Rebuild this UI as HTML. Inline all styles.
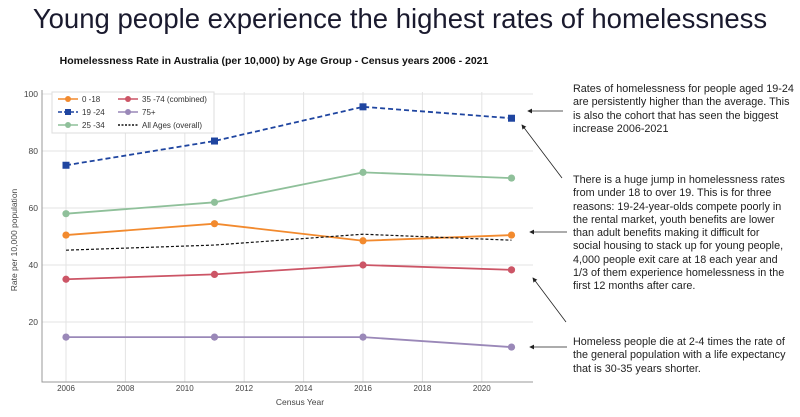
<!DOCTYPE html>
<html><head><meta charset="utf-8"><style>
body{margin:0;width:800px;height:417px;background:#fff;overflow:hidden;font-family:"Liberation Sans",sans-serif;}
svg text{font-family:"Liberation Sans",sans-serif;}
.ann{position:absolute;left:573px;font-size:10.8px;line-height:13.3px;color:#222;white-space:nowrap;}
</style></head><body>
<div style="position:absolute;left:0;width:800px;top:3px;text-align:center;font-size:27.5px;color:#1a1a2e;">Young people experience the highest rates of homelessness</div>
<div class="ann" style="top:83px">Rates of homelessness for people aged 19-24<br>are persistently higher than the average. This<br>is also the cohort that has seen the biggest<br>increase 2006-2021</div>
<div class="ann" style="top:174px">There is a huge jump in homelessness rates<br>from under 18 to over 19. This is for three<br>reasons: 19-24-year-olds compete poorly in<br>the rental market, youth benefits are lower<br>than adult benefits making it difficult for<br>social housing to stack up for young people,<br>4,000 people exit care at 18 each year and<br>1/3 of them experience homelessness in the<br>first 12 months after care.</div>
<div class="ann" style="top:336px">Homeless people die at 2-4 times the rate of<br>the general population with a life expectancy<br>that is 30-35 years shorter.</div>
<svg id="chart" width="800" height="417" style="position:absolute;left:0;top:0">
<defs><marker id="ah" markerWidth="6" markerHeight="6" refX="5" refY="3" orient="auto"><path d="M0,0 L6,3 L0,6 z" fill="#222"/></marker></defs>
<text x="274" y="64" text-anchor="middle" font-size="10.5" font-weight="bold" fill="#111">Homelessness Rate in Australia (per 10,000) by Age Group - Census years 2006 - 2021</text>
<g id="grid"></g><g id="series"></g>
<line x1="563" y1="111" x2="528" y2="111" stroke="#222" stroke-width="0.8" marker-end="url(#ah)"/>
<line x1="562" y1="178" x2="522" y2="125" stroke="#222" stroke-width="0.8" marker-end="url(#ah)"/>
<line x1="567" y1="232" x2="530" y2="232" stroke="#222" stroke-width="0.8" marker-end="url(#ah)"/>
<line x1="566" y1="322" x2="533" y2="278" stroke="#222" stroke-width="0.8" marker-end="url(#ah)"/>
<line x1="567" y1="347" x2="530" y2="347" stroke="#222" stroke-width="0.8" marker-end="url(#ah)"/>
<g>
<rect x="52" y="92" width="162" height="41" fill="#fff" stroke="#ddd"/>
</g>
</svg>
<script>
const years=[2006,2011,2016,2021];
const xTicks=[2006,2008,2010,2012,2014,2016,2018,2020];
const yTicks=[20,40,60,80,100];
const s0_18=[50.5,54.5,48.5,50.5];
const s19_24=[75,83.5,95.5,91.5];
const s25_34=[58,62,72.5,70.5];
const s35_74=[35,36.7,40,38.3];
const s75=[14.7,14.7,14.7,11.2];
const sAll=[45.2,47,50.8,48.7];
const NS="http://www.w3.org/2000/svg";
const X=y=>66+(y-2006)*29.7;
const Y=v=>379-v*2.85;
function mk(t,a,p){const e=document.createElementNS(NS,t);for(const k in a)e.setAttribute(k,a[k]);p.appendChild(e);return e;}
const grid=document.getElementById('grid'),ser=document.getElementById('series'),svg=document.getElementById('chart');
xTicks.forEach(t=>{const l=mk('line',{x1:X(t),x2:X(t),y1:92,y2:382,stroke:'#e3e3e3'},grid);

const tx=mk('text',{x:X(t),y:391,'text-anchor':'middle','font-size':'8',fill:'#444'},grid);tx.textContent=t;
});
yTicks.forEach(t=>{const l=mk('line',{x1:42,x2:533,y1:Y(t),y2:Y(t),stroke:'#e3e3e3'},grid);

const tx=mk('text',{x:38,y:Y(t)+3,'text-anchor':'end','font-size':'8.5',fill:'#444'},grid);tx.textContent=t;
});
const ax=mk('path',{d:'M42,90 L42,382 L533,382',fill:'none',stroke:'#999'},grid);

const xt=mk('text',{x:300,y:405,'text-anchor':'middle','font-size':'8.5',fill:'#444'},grid);xt.textContent='Census Year';

const yt=mk('text',{x:0,y:0,transform:'translate(17,240) rotate(-90)','text-anchor':'middle','font-size':'8.5',fill:'#444'},grid);yt.textContent='Rate per 10,000 population';

const series=[
{n:'0-18',d:s0_18,c:'#f28a2e',dash:'',m:'c',w:1.8},
{n:'19-24',d:s19_24,c:'#1f45a0',dash:'5,3',m:'s',w:1.8},
{n:'25-34',d:s25_34,c:'#8fc09a',dash:'',m:'c',w:1.8},
{n:'35-74',d:s35_74,c:'#cc5566',dash:'',m:'c',w:1.8},
{n:'75+',d:s75,c:'#9a88b8',dash:'',m:'c',w:1.8},
{n:'all',d:sAll,c:'#111',dash:'3,2',m:'',w:1.2}];
series.forEach(s=>{const pts=s.d.map((v,i)=>X(years[i])+','+Y(v)).join(' ');
const pl=mk('polyline',{points:pts,fill:'none',stroke:s.c,'stroke-width':s.w,'stroke-dasharray':s.dash},ser);

if(s.m)s.d.forEach((v,i)=>{let e;if(s.m==='s')e=mk('rect',{x:X(years[i])-3.5,y:Y(v)-3.5,width:7,height:7,fill:s.c},ser);
else e=mk('circle',{cx:X(years[i]),cy:Y(v),r:3.6,fill:s.c},ser);
});});
const leg=[['0 -18','#f28a2e','','c',58,99],['19 -24','#1f45a0','4,2','s',58,112],['25 -34','#8fc09a','','c',58,125],
['35 -74 (combined)','#cc5566','','c',118,99],['75+','#9a88b8','','c',118,112],['All Ages (overall)','#111','2,1.5','',118,125]];
leg.forEach(l=>{const g=mk('g',{},svg);

mk('line',{x1:l[4],x2:l[4]+20,y1:l[5],y2:l[5],stroke:l[1],'stroke-width':1.5,'stroke-dasharray':l[2]},g);
if(l[3]==='c')mk('circle',{cx:l[4]+10,cy:l[5],r:3,fill:l[1]},g);
if(l[3]==='s')mk('rect',{x:l[4]+7,y:l[5]-3,width:6,height:6,fill:l[1]},g);
const t=mk('text',{x:l[4]+24,y:l[5]+3,'font-size':'8',fill:'#333'},g);t.textContent=l[0];});
</script>
</body></html>
